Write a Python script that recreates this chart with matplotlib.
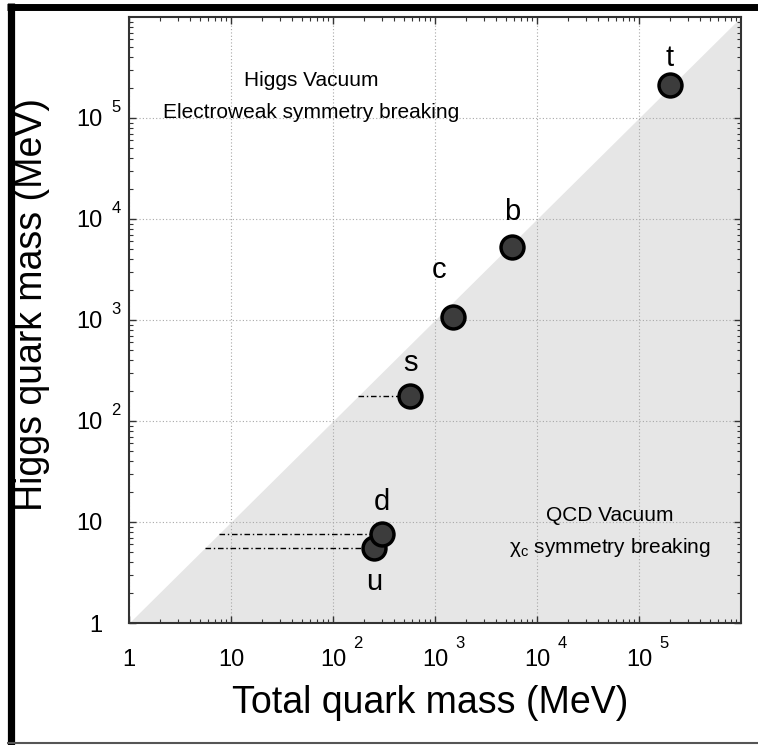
import matplotlib
matplotlib.use("Agg")
import matplotlib.pyplot as plt
import matplotlib.transforms as mtransforms
from matplotlib.lines import Line2D
from matplotlib.ticker import NullFormatter

plt.rcParams["font.family"] = ["Liberation Sans", "DejaVu Sans"]
plt.rcParams["mathtext.fontset"] = "custom"
plt.rcParams["mathtext.rm"] = "Liberation Sans"
plt.rcParams["mathtext.it"] = "Liberation Sans:italic"

# masses (MeV)
quarks = ["u", "d", "s", "c", "b", "t"]
total_mass = [252, 302, 569, 1500, 5700, 2.0e5]
higgs_mass = [5.5, 7.6, 177, 1070, 5300, 2.1e5]
# light quarks: dash-dot line from the diagonal to the point
dashed = ["u", "d", "s"]

tick_vals = [1, 10, 1e2, 1e3, 1e4, 1e5]
tick_base = ["1", "10", "10", "10", "10", "10"]
tick_exp = ["", "", "2", "3", "4", "5"]

# where the letter sits relative to its point (pixels)
label_off = {"u": (0, -34), "d": (0, 32), "s": (0, 33),
             "c": (-14, 47), "b": (0, 35), "t": (0, 27)}

fig = plt.figure(figsize=(7.58, 7.45), dpi=100)
ax = fig.add_axes([129 / 758, 1 - 623 / 745, 612 / 758, 606 / 745])
ax.set_xscale("log")
ax.set_yscale("log")
ax.set_xlim(1, 1e6)
ax.set_ylim(1, 1e6)

# region below the diagonal (QCD side)
ax.fill_between([1, 1e6], [1, 1e6], 1, color="#e6e6e6", lw=0, zorder=0.2)
ax.set_axisbelow(True)
ax.grid(True, which="major", ls=(0, (1, 2)), color="#a8a8a8", lw=0.8)

for q, x, y in zip(quarks, total_mass, higgs_mass):
    if q in dashed:
        ax.plot([y, x], [y, y], color="black", lw=1.0, ls=(0, (4, 2, 1, 2)), zorder=2)
    ax.plot(x, y, "o", ms=16.5, mfc="#3c3c3c", mec="black", mew=2.5, zorder=3)
    dx, dy = label_off[q]
    ax.annotate(q, (x, y), xytext=(dx, dy), textcoords="offset pixels",
                ha="center", va="center", fontsize=21, zorder=4)

ax.set_xticks(tick_vals)
ax.set_xticklabels(tick_base)
ax.set_yticks(tick_vals)
ax.set_yticklabels(tick_base)
ax.xaxis.set_minor_formatter(NullFormatter())
ax.yaxis.set_minor_formatter(NullFormatter())
ax.tick_params(which="both", direction="in", top=True, right=True, colors="#333333")
ax.tick_params(which="major", length=5, width=1, labelsize=17, pad=19, labelcolor="black")
ax.tick_params(which="minor", length=3, width=0.8)
for s in ax.spines.values():
    s.set_linewidth(1.5)
    s.set_color("#333333")

# exponents hang off the "10" like in the original
xtrans = mtransforms.blended_transform_factory(ax.transData, ax.transAxes)
ytrans = mtransforms.blended_transform_factory(ax.transAxes, ax.transData)
for v, e in zip(tick_vals, tick_exp):
    if not e:
        continue
    ax.text(v, 0, e, fontsize=12, ha="center", va="center", clip_on=False,
            transform=mtransforms.offset_copy(xtrans, fig=fig, x=25, y=-20, units="dots"))
    ax.text(0, v, e, fontsize=12, ha="center", va="center", clip_on=False,
            transform=mtransforms.offset_copy(ytrans, fig=fig, x=-13, y=10, units="dots"))

ax.set_xlabel("Total quark mass (MeV)", fontsize=27, va="center")
ax.xaxis.set_label_coords(0.492, -0.132)
ax.set_ylabel("Higgs quark mass (MeV)", fontsize=27, va="center")
ax.yaxis.set_label_coords(-0.158, 0.525)

ax.text(0.297, 0.896, "Higgs Vacuum", transform=ax.transAxes, ha="center", va="center", fontsize=15)
ax.text(0.297, 0.843, "Electroweak symmetry breaking", transform=ax.transAxes,
        ha="center", va="center", fontsize=15)
ax.text(0.786, 0.178, "QCD Vacuum", transform=ax.transAxes, ha="center", va="center", fontsize=15)
ax.text(0.786, 0.125, "$\\mathrm{\\chi}_\\mathrm{c}$ symmetry breaking", transform=ax.transAxes,
        ha="center", va="center", fontsize=15)

# frame around the figure (cut off on the right in the original)
fig.add_artist(Line2D([11 / 758] * 2, [0, 1 - 3 / 745], transform=fig.transFigure,
                      color="black", lw=5.2, solid_capstyle="butt"))
fig.add_artist(Line2D([7 / 758, 1], [1 - 6.5 / 745] * 2, transform=fig.transFigure,
                      color="black", lw=5, solid_capstyle="butt"))
fig.add_artist(Line2D([7 / 758, 1], [1 - 743 / 745] * 2, transform=fig.transFigure,
                      color="#555555", lw=1.5, solid_capstyle="butt"))

fig.savefig("out.png", dpi=100)
